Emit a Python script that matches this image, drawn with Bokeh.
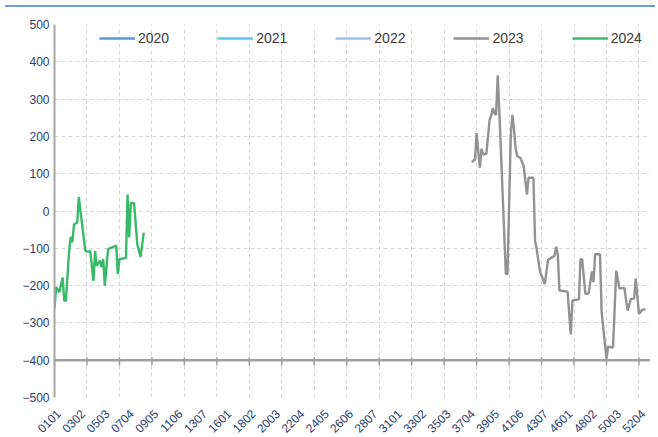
import math
from bokeh.plotting import figure
from bokeh.models import Range1d, FixedTicker, Legend, LegendItem, Span, Div
from bokeh.layouts import column
from bokeh.embed import file_html
from bokeh.resources import INLINE

# ---------------- data ----------------
series_names = ["2020", "2021", "2022", "2023", "2024"]
series_colors = ["#5b9bd5", "#5ec6ef", "#9dc3e6", "#929292", "#38bb68"]

x_labels = ["0101", "0302", "0503", "0704", "0905", "1106", "1307", "1601",
            "1802", "2003", "2204", "2405", "2606", "2807", "3101", "3302",
            "3503", "3704", "3905", "4106", "4307", "4601", "4802", "5003",
            "5204"]
label_step = 15
grid_step = 20
n_categories = 367.1
y_ticks = [-500, -400, -300, -200, -100, 0, 100, 200, 300, 400, 500]
axis_cross = -400

# 2024 series: category index, value
x_2024 = [0, 1, 3, 5, 6, 7, 9, 10, 11, 12, 14, 15, 16, 19, 21, 22, 24, 25,
          26, 28, 29, 30, 31, 33, 35, 38, 39, 40, 44, 45, 46, 47, 49, 51, 53, 55]
y_2024 = [-262, -204, -218, -178, -240, -242, -107, -69, -84, -36, -31, 37, 0,
          -107, -109, -107, -187, -107, -147, -133, -151, -129, -200, -102, -98,
          -93, -169, -129, -126, 44, -71, 22, 21, -89, -123, -58]

# 2023 series: category index, value
x_2023 = [257, 259, 260, 261, 262, 263, 264, 266, 268, 269, 270, 271, 272, 273,
          274, 278, 279, 281, 282, 283, 284, 285, 287, 289, 291, 292, 295, 296,
          297, 299, 302, 304, 308, 309, 310, 311, 316, 318, 319, 323, 324, 325,
          327, 329, 331, 332, 333, 336, 337, 340, 341, 344, 346, 348, 351, 353,
          355, 357, 358, 360, 362, 364]
y_2023 = [131, 138, 209, 160, 116, 167, 151, 153, 245, 256, 276, 262, 258, 364,
          267, -169, -169, 196, 258, 222, 169, 147, 142, 120, 44, 89, 89, -80,
          -102, -162, -196, -131, -120, -96, -116, -213, -216, -331, -240, -237,
          -129, -129, -222, -221, -162, -191, -116, -116, -272, -396, -364, -366,
          -160, -208, -206, -267, -236, -235, -181, -276, -265, -263]

# 2020-2022 have no visible values in this window
nan = float("nan")
empty_series = ([nan], [nan])

# ---------------- figure ----------------
FONT = "Liberation Sans"
LABEL_COLOR = "#2b4070"
LABEL_SHIFT = 2.5   # small visual nudge of rotated category labels

p = figure(width=650, height=427,
           x_range=Range1d(0, n_categories), y_range=Range1d(-500, 500),
           output_backend="svg", toolbar_location=None,
           min_border_left=54, min_border_right=0,
           min_border_top=12, min_border_bottom=40)
p.outline_line_color = None
p.background_fill_color = "white"
p.border_fill_color = "white"

# grids
grid_ticks = list(range(0, int(n_categories) + 1, grid_step))
p.xgrid.ticker = FixedTicker(ticks=grid_ticks)
p.xgrid.grid_line_color = "#d6d6d6"
p.xgrid.grid_line_dash = "4 3"
p.xgrid.grid_line_width = 1
p.ygrid.ticker = FixedTicker(ticks=y_ticks)
p.ygrid.grid_line_color = "#d6d6d6"
p.ygrid.grid_line_dash = "4 3"
p.ygrid.grid_line_width = 1

# x axis (labels only)
label_ticks = [i * label_step + LABEL_SHIFT for i in range(len(x_labels))]
p.xaxis.ticker = FixedTicker(ticks=label_ticks)
p.xaxis.major_label_overrides = {t: lab for t, lab in zip(label_ticks, x_labels)}
p.xaxis.major_label_orientation = math.pi / 4
p.xaxis.axis_line_color = None
p.xaxis.major_tick_line_color = None
p.xaxis.minor_tick_line_color = None
p.xaxis.major_label_standoff = 8
p.xaxis.major_label_text_font = FONT
p.xaxis.major_label_text_font_size = "12px"
p.xaxis.major_label_text_color = LABEL_COLOR

# y axis
p.yaxis.ticker = FixedTicker(ticks=y_ticks)
p.yaxis.axis_line_color = "#a6a6a6"
p.yaxis.axis_line_width = 2
p.yaxis.major_tick_in = 0
p.yaxis.major_tick_out = 0
p.yaxis.minor_tick_line_color = None
p.yaxis.major_label_standoff = 5
p.yaxis.major_label_text_font = FONT
p.yaxis.major_label_text_font_size = "12px"
p.yaxis.major_label_text_color = LABEL_COLOR

# horizontal axis line crossing at -400 with tick marks
p.add_layout(Span(location=axis_cross, dimension="width",
                  line_color="#a0a0a0", line_width=2.5))
p.segment(x0=grid_ticks, y0=[axis_cross + 8] * len(grid_ticks),
          x1=grid_ticks, y1=[axis_cross - 14] * len(grid_ticks),
          line_color="#a0a0a0", line_width=1.5)

# series
renderers = []
data = {"2023": (x_2023, y_2023), "2024": (x_2024, y_2024)}
for name, color in zip(series_names, series_colors):
    xs, ys = data.get(name, empty_series)
    r = p.line(x=xs, y=ys, line_color=color, line_width=2.4)
    renderers.append(r)

legend = Legend(items=[LegendItem(label=n, renderers=[r])
                       for n, r in zip(series_names, renderers)],
                orientation="horizontal", location=(45, 351),
                glyph_width=36, glyph_height=16, label_height=16,
                label_standoff=3, spacing=48, padding=0, margin=0,
                border_line_color=None, background_fill_alpha=0,
                label_text_font=FONT, label_text_font_size="14px",
                label_text_color="#3a3a3a")
p.add_layout(legend)

top_bar = Div(text="", width=650, height=2,
              styles={"background-color": "#6ca0d4"})
layout = column(top_bar, p, spacing=0)

open("out.html", "w").write(file_html(layout, INLINE))
